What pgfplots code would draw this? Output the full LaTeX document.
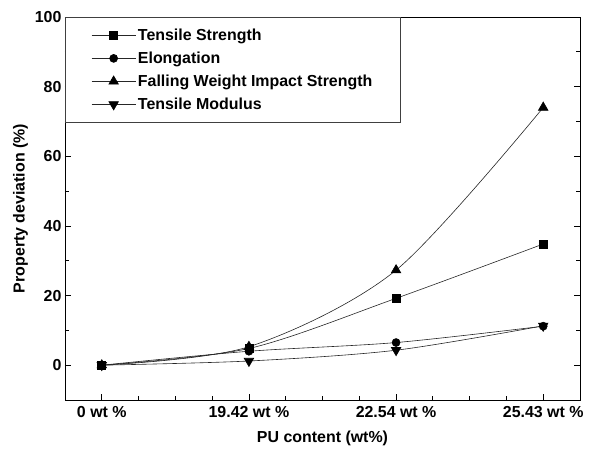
\documentclass[border=0pt]{standalone}
\usepackage{fontspec}
\setmainfont{Liberation Sans}
\usepackage{pgfplots}
\pgfplotsset{compat=1.18}
\begin{document}
\begin{tikzpicture}[font=\fontsize{16}{19}\selectfont\bfseries]
\begin{axis}[
    scale only axis, width=515bp, height=383bp,
    xmin=-0.25, xmax=3.25, ymin=-10, ymax=100,
    xtick={0,1,2,3},
    xticklabels={0 wt \%, 19.42 wt \%, 22.54 wt \%, 25.43 wt \%},
    minor x tick num=3,
    ytick={0,20,...,100}, minor y tick num=1,
    xtick pos=bottom, ytick pos=both,
    tick align=inside,
    major tick length=6bp, minor tick length=4bp,
    tick style={black, line width=0.8bp},
    axis line style={line width=0.8bp},
    /pgf/number format/assume math mode=true,
    xticklabel style={yshift=-3bp},
    xlabel={PU content (wt\%)},
    ylabel={Property deviation (\%)},
    xlabel style={yshift=-6bp},
    legend style={at={(0,1)}, anchor=north west, draw=black!75, line width=0.7bp,
        inner xsep=26bp, inner ysep=9.5bp, row sep=6bp},
    legend cell align=left,
    legend image code/.code={
        \draw[mark repeat=2,mark phase=2,#1] plot coordinates {(0bp,0bp)(22bp,0bp)(44bp,0bp)};
    },
]
\addplot[smooth, black!85, line width=0.6bp, mark=square*, mark size=4bp, mark options={black, fill=black}]
    coordinates {(0,0) (1,4.8) (2,19.2) (3,34.8)};
\addplot[smooth, black!85, line width=0.6bp, mark=*, mark size=4bp, mark options={black, fill=black}]
    coordinates {(0,0) (1,4.0) (2,6.5) (3,11.2)};
\addplot[smooth, black!85, line width=0.6bp, mark=triangle*, mark size=5.5bp, mark options={black, fill=black}]
    coordinates {(0,0) (1,5.3) (2,27.3) (3,74)};
\addplot[smooth, black!85, line width=0.6bp, mark=triangle*, mark size=5.5bp, mark options={black, fill=black, rotate=180}]
    coordinates {(0,0) (1,1.2) (2,4.3) (3,11.3)};
\legend{Tensile Strength, Elongation, Falling Weight Impact Strength, Tensile Modulus}
\end{axis}
\path ([shift={(-65bp,-51bp)}]current axis.south west) rectangle ([shift={(10bp,17bp)}]current axis.north east);
\end{tikzpicture}
\end{document}
